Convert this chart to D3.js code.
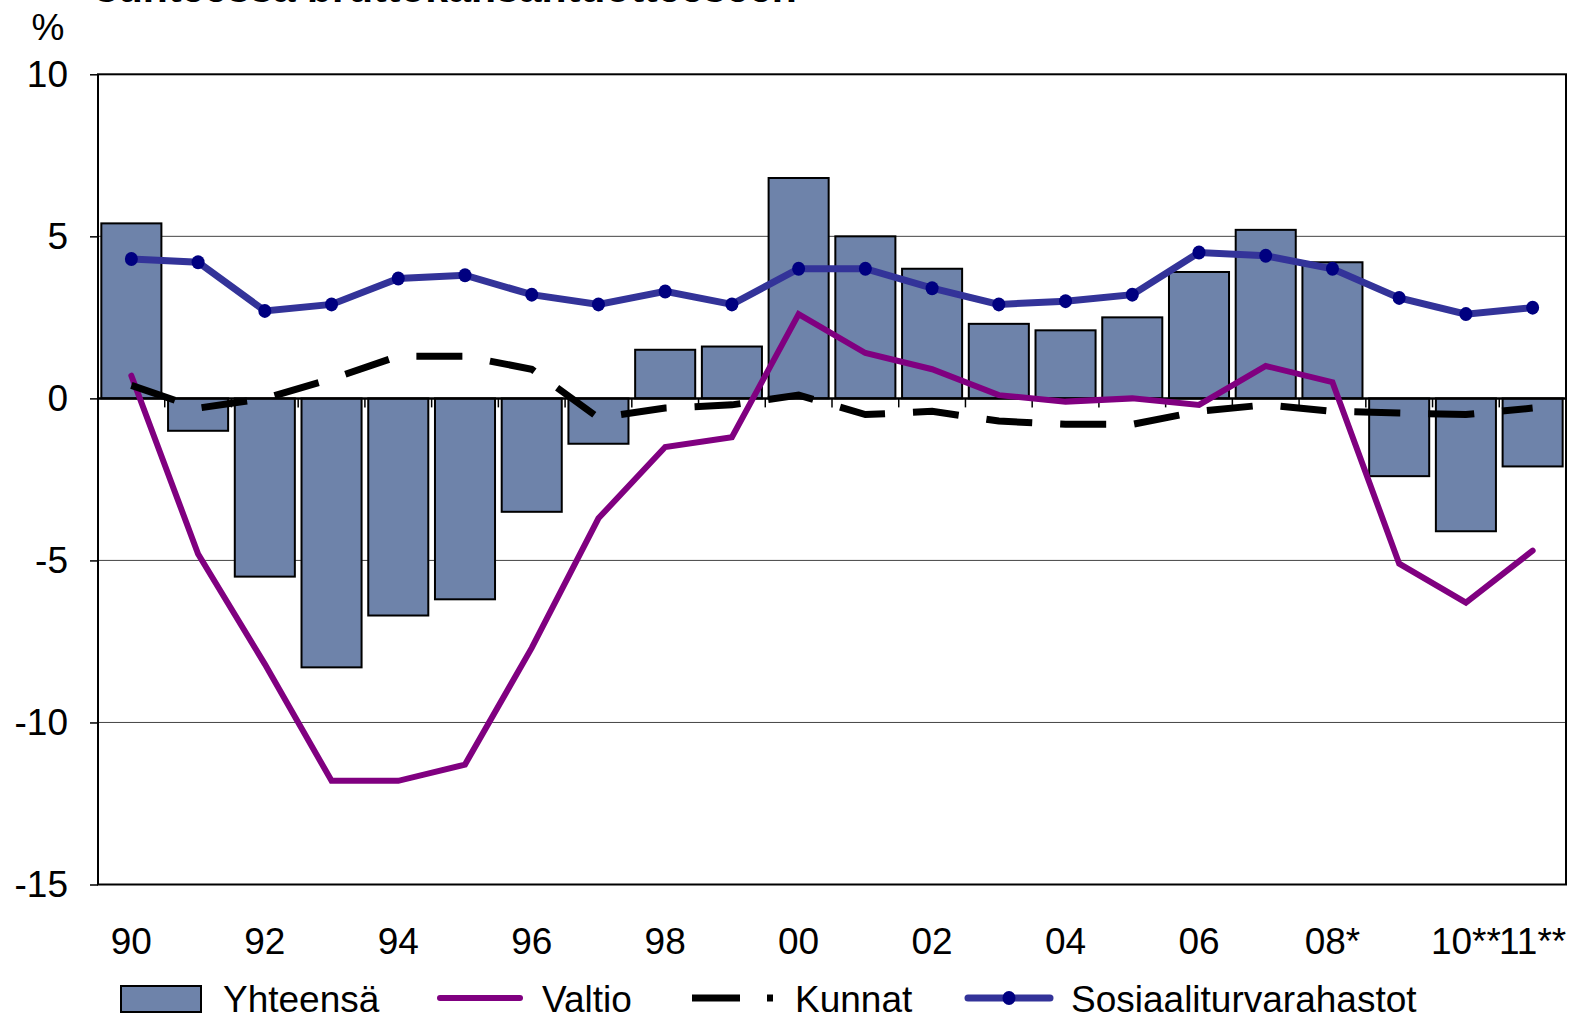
<!DOCTYPE html>
<html>
<head>
<meta charset="utf-8">
<script src="https://cdn.jsdelivr.net/npm/d3@7"></script>
<style>
  body { margin: 0; background: #fff; }
  svg { display: block; font-family: "Liberation Sans", Arial, sans-serif; }
</style>
</head>
<body>
<svg id="chart" width="1574" height="1018"></svg>
<script>
// vuodet 1990-2011
var years = ["90","91","92","93","94","95","96","97","98","99","00","01","02","03","04","05","06","07","08","09","10","11"];
var tickLabels = {"90":"90","92":"92","94":"94","96":"96","98":"98","00":"00","02":"02","04":"04","06":"06","08":"08*","10":"10**","11":"11**"};
var yTicks = [10, 5, 0, -5, -10, -15];

var yhteensa = [5.4,-1.0,-5.5,-8.3,-6.7,-6.2,-3.5,-1.4,1.5,1.6,6.8,5.0,4.0,2.3,2.1,2.5,3.9,5.2,4.2,-2.4,-4.1,-2.1];
var valtio = [0.7,-4.8,-8.2,-11.8,-11.8,-11.3,-7.7,-3.7,-1.5,-1.2,2.6,1.4,0.9,0.1,-0.1,0.0,-0.2,1.0,0.5,-5.1,-6.3,-4.7];
var kunnat = [0.4,-0.3,0.0,0.6,1.3,1.3,0.9,-0.6,-0.3,-0.2,0.1,-0.5,-0.4,-0.7,-0.8,-0.8,-0.4,-0.2,-0.4,-0.45,-0.5,-0.3];
var sosiaali = [4.3,4.2,2.7,2.9,3.7,3.8,3.2,2.9,3.3,2.9,4.0,4.0,3.4,2.9,3.0,3.2,4.5,4.4,4.0,3.1,2.6,2.8];

var plotLeft = 98, plotRight = 1566, plotTop = 74.3, plotBottom = 884.5;
var fontSize = "37px";

var svg = d3.select("#chart");

var x = d3.scaleBand()
    .domain(years)
    .range([plotLeft, plotRight])
    .paddingInner(0.1)
    .paddingOuter(0.05);

var y = d3.scaleLinear()
    .domain([-15, 10])
    .range([plotBottom, plotTop]);

function cx(d, i) { return x(years[i]) + x.bandwidth() / 2; }

// otsikon alaosa (leikattu)
svg.append("text")
    .attr("x", 95)
    .attr("y", 2)
    .style("font-size", "41px")
    .style("font-weight", "bold")
    .text("suhteessa bruttokansantuotteeseen");

svg.append("text")
    .attr("x", 48)
    .attr("y", 40)
    .attr("text-anchor", "middle")
    .style("font-size", fontSize)
    .text("%");

// vaakaviivat
svg.selectAll(".grid")
    .data(yTicks.filter(function(d) { return d != 0 && d != 10 && d != -15; }))
    .enter()
    .append("line")
    .attr("class", "grid")
    .attr("x1", plotLeft)
    .attr("x2", plotRight)
    .attr("y1", function(d) { return y(d); })
    .attr("y2", function(d) { return y(d); })
    .attr("stroke", "#444")
    .attr("stroke-width", 1);

// y-akseli
var yAxis = svg.append("g")
    .attr("transform", "translate(" + plotLeft + ",0)")
    .call(d3.axisLeft(y).tickValues(yTicks).tickSize(8).tickPadding(22).tickFormat(function(d) { return String(d); }));
yAxis.select(".domain").remove();
yAxis.selectAll("line").attr("stroke", "#000").attr("stroke-width", 1.5);
yAxis.selectAll("text")
    .style("font-size", fontSize)
    .style("font-family", "'Liberation Sans', Arial, sans-serif")
    .attr("fill", "#000");

// pylväät
svg.selectAll(".bar")
    .data(yhteensa)
    .enter()
    .append("rect")
    .attr("class", "bar")
    .attr("x", function(d, i) { return x(years[i]); })
    .attr("width", x.bandwidth())
    .attr("y", function(d) { return y(Math.max(0, d)); })
    .attr("height", function(d) { return Math.abs(y(d) - y(0)); })
    .attr("fill", "#6e83aa")
    .attr("stroke", "#000")
    .attr("stroke-width", 2);

// x-akselin tikit nollatasolla
var bounds = d3.range(years.length + 1).map(function(i) { return plotLeft + i * x.step(); });
svg.selectAll(".xtick")
    .data(bounds)
    .enter()
    .append("line")
    .attr("class", "xtick")
    .attr("x1", function(d) { return d; })
    .attr("x2", function(d) { return d; })
    .attr("y1", y(0))
    .attr("y2", y(0) + 9)
    .attr("stroke", "#000")
    .attr("stroke-width", 1.5);

svg.append("line")
    .attr("x1", plotLeft)
    .attr("x2", plotRight)
    .attr("y1", y(0))
    .attr("y2", y(0))
    .attr("stroke", "#000")
    .attr("stroke-width", 2.5);

// kehys
svg.append("rect")
    .attr("x", plotLeft)
    .attr("y", plotTop)
    .attr("width", plotRight - plotLeft)
    .attr("height", plotBottom - plotTop)
    .attr("fill", "none")
    .attr("stroke", "#000")
    .attr("stroke-width", 2);

// x-akselin nimiöt
svg.selectAll(".xlabel")
    .data(years.filter(function(d) { return tickLabels[d]; }))
    .enter()
    .append("text")
    .attr("class", "xlabel")
    .attr("x", function(d) { return x(d) + x.bandwidth() / 2; })
    .attr("y", 954)
    .attr("text-anchor", "middle")
    .style("font-size", fontSize)
    .text(function(d) { return tickLabels[d]; });

var line = d3.line()
    .x(cx)
    .y(function(d) { return y(d); });

svg.append("path")
    .datum(valtio)
    .attr("d", line)
    .attr("fill", "none")
    .attr("stroke", "#800080")
    .attr("stroke-width", 6)
    .attr("stroke-linecap", "round");

svg.append("path")
    .datum(kunnat)
    .attr("d", line)
    .attr("fill", "none")
    .attr("stroke", "#000")
    .attr("stroke-width", 7)
    .attr("stroke-dasharray", "46,28");

svg.append("path")
    .datum(sosiaali)
    .attr("d", line)
    .attr("fill", "none")
    .attr("stroke", "#333399")
    .attr("stroke-width", 7)
    .attr("stroke-linecap", "round");

svg.selectAll(".dot")
    .data(sosiaali)
    .enter()
    .append("ellipse")
    .attr("class", "dot")
    .attr("cx", cx)
    .attr("cy", function(d) { return y(d); })
    .attr("rx", 6.5)
    .attr("ry", 7)
    .attr("fill", "#000080");

// selite
var ly = 998;
var legend = svg.append("g");
legend.append("rect")
    .attr("x", 121).attr("y", ly - 12)
    .attr("width", 80).attr("height", 26)
    .attr("fill", "#6e83aa").attr("stroke", "#000").attr("stroke-width", 2);
legend.append("line")
    .attr("x1", 440).attr("x2", 520).attr("y1", ly).attr("y2", ly)
    .attr("stroke", "#800080").attr("stroke-width", 6).attr("stroke-linecap", "round");
legend.append("line")
    .attr("x1", 692).attr("x2", 773).attr("y1", ly).attr("y2", ly)
    .attr("stroke", "#000").attr("stroke-width", 7)
    .attr("stroke-dasharray", "48,27,6,40");
legend.append("line")
    .attr("x1", 968).attr("x2", 1050).attr("y1", ly).attr("y2", ly)
    .attr("stroke", "#333399").attr("stroke-width", 7).attr("stroke-linecap", "round");
legend.append("ellipse")
    .attr("cx", 1009).attr("cy", ly).attr("rx", 6.5).attr("ry", 7)
    .attr("fill", "#000080");

var legendText = [["Yhteensä", 223], ["Valtio", 542], ["Kunnat", 795], ["Sosiaaliturvarahastot", 1071]];
legend.selectAll("text")
    .data(legendText)
    .enter()
    .append("text")
    .attr("x", function(d) { return d[1]; })
    .attr("y", 1012)
    .style("font-size", fontSize)
    .text(function(d) { return d[0]; });
</script>
</body>
</html>
